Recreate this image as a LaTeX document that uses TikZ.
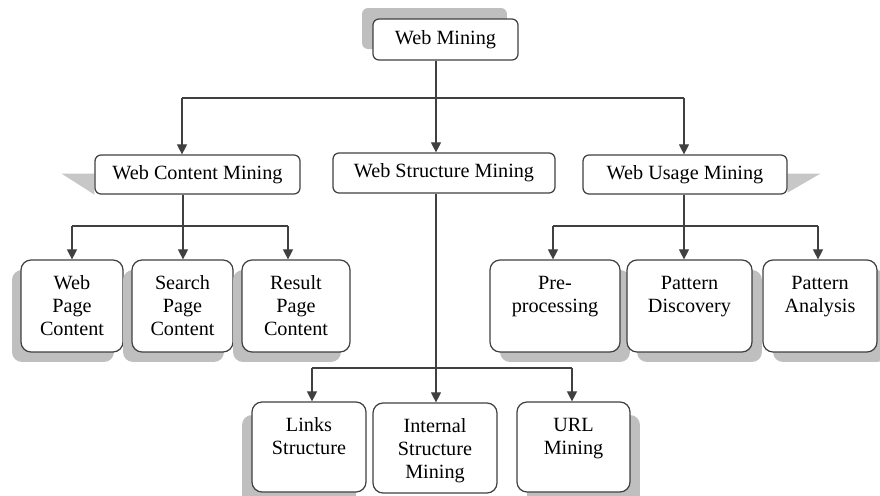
\documentclass[tikz,border=0pt]{standalone}
\usepackage{fontspec}
\setmainfont{Liberation Serif}
\usetikzlibrary{arrows.meta,shadows,backgrounds,calc}

\tikzset{
    head/.style={draw=black!75, line width=0.7pt, fill=white, rounded corners=0.12cm,
        inner sep=0pt, minimum height=0.8cm},
    leaf/.style={draw=black!75, line width=0.7pt, fill=white, rounded corners=0.2cm,
        inner sep=0pt, align=center, text height=0.58cm, text depth=1.26cm},
    low/.style={text depth=1.22cm},
    shadowat/.style 2 args={drop shadow={shadow xshift=#1, shadow yshift=#2,
        fill=black!25, opacity=1}},
    wire/.style={draw=black!75, line width=0.65pt},
    arrow/.style={wire, -{Triangle[length=0.2cm, width=0.2cm]}},
}

\begin{document}
\begin{tikzpicture}[x=0.02cm, y=-0.02cm, font=\fontsize{11.5}{13.2}\selectfont]
        \useasboundingbox (0,0) rectangle (880,495);

        % top levels
        \node[head, minimum width=2.9cm, minimum height=0.82cm, shadowat={-0.22cm}{0.22cm}] (wm) at (445.5,39.5) {Web Mining};
        \node[head, minimum width=4.1cm, minimum height=0.78cm] (wcm) at (197.5,174.5) {Web Content Mining};
        \node[head, minimum width=4.44cm] (wsm) at (444,173) {Web Structure Mining};
        \node[head, minimum width=4.08cm, minimum height=0.78cm] (wum) at (685,174.5) {Web Usage Mining};

        % content mining
        \node[leaf, text width=2.04cm, shadowat={-0.18cm}{-0.2cm}] (wpc) at (72,306) {Web\\Page\\Content};
        \node[leaf, text width=2.02cm, shadowat={-0.18cm}{-0.2cm}] (spc) at (182.5,306) {Search\\Page\\Content};
        \node[leaf, text width=2.16cm, shadowat={-0.18cm}{-0.2cm}] (rpc) at (296,306) {Result\\Page\\Content};

        % usage mining
        \node[leaf, text width=2.6cm, shadowat={0.2cm}{-0.2cm}] (pre) at (555,306) {Pre-\\processing};
        \node[leaf, text width=2.5cm, shadowat={0.2cm}{-0.2cm}] (pd) at (689.5,306) {Pattern\\Discovery};
        \node[leaf, text width=2.28cm, shadowat={0.2cm}{-0.2cm}] (pa) at (820,306) {Pattern\\Analysis};

        % structure mining
        \node[leaf, low, text width=2.28cm, shadowat={-0.2cm}{-0.26cm}] (ls) at (309,447) {Links\\Structure};
        \node[leaf, low, text width=2.48cm] (ism) at (435,448) {Internal\\Structure\\Mining};
        \node[leaf, low, text width=2.26cm, shadowat={0.2cm}{-0.26cm}] (url) at (573.5,447) {URL\\Mining};

        \begin{scope}[on background layer]
            \fill[black!22] ($(wcm.west)+(-33,-1)$) -- ($(wcm.west)+(0,-1)$) -- (wcm.south west) -- cycle;
            \fill[black!22] ($(wum.east)+(33,-1)$) -- ($(wum.east)+(0,-1)$) -- ($(wum.south east)+(0,-2)$) -- cycle;
        \end{scope}

        \coordinate (t0) at (436,98);
        \coordinate (t1) at (182,98);
        \coordinate (t3) at (684,98);
        \draw[wire] (t0 |- wm.south) -- (t0);
        \draw[wire] (t1) -- (t3);
        \draw[arrow] (t1) -- (t1 |- wcm.north);
        \draw[arrow] (t0) -- (t0 |- wsm.north);
        \draw[arrow] (t3) -- (t3 |- wum.north);

        \coordinate (c0) at (183,226);
        \coordinate (c1) at (72,226);
        \coordinate (c3) at (288,226);
        \draw[wire] (c0 |- wcm.south) -- (c0);
        \draw[wire] (c1) -- (c3);
        \draw[arrow] (c1) -- (c1 |- wpc.north);
        \draw[arrow] (c0) -- (c0 |- spc.north);
        \draw[arrow] (c3) -- (c3 |- rpc.north);

        \coordinate (u0) at (684,226);
        \coordinate (u1) at (553,226);
        \coordinate (u3) at (818,226);
        \draw[wire] (u0 |- wum.south) -- (u0);
        \draw[wire] (u1) -- (u3);
        \draw[arrow] (u1) -- (u1 |- pre.north);
        \draw[arrow] (u0) -- (u0 |- pd.north);
        \draw[arrow] (u3) -- (u3 |- pa.north);

        \coordinate (s0) at (436,368);
        \coordinate (s1) at (312,368);
        \coordinate (s3) at (572,368);
        \draw[wire] (s0 |- wsm.south) -- (s0);
        \draw[wire] (s1) -- (s3);
        \draw[arrow] (s1) -- (s1 |- ls.north);
        \draw[arrow] (s0) -- (s0 |- ism.north);
        \draw[arrow] (s3) -- (s3 |- url.north);

    \end{tikzpicture}
\end{document}
